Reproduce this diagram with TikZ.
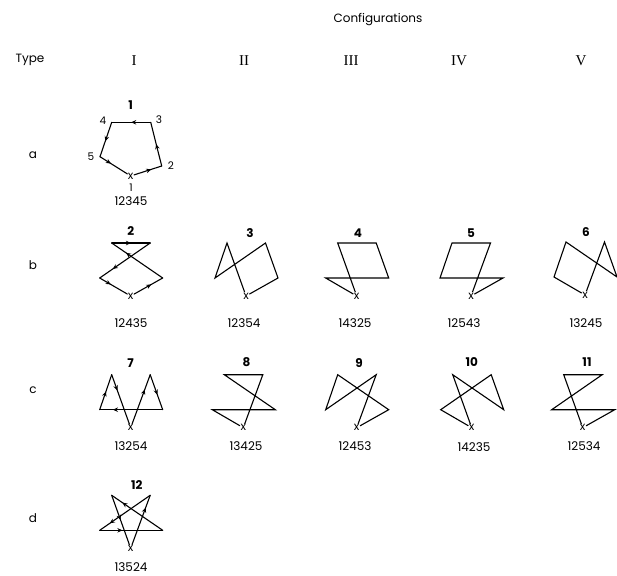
\documentclass[tikz,border=0pt]{standalone}
\usepackage{fontspec}
\newfontfamily\gsans{Poppins}
\newfontfamily\gserif{Liberation Serif}
\usetikzlibrary{arrows.meta,decorations.markings}

% vertices of one pentagon frame: node <name>-1 is the start mark "x",
% <name>-2 .. <name>-5 are the remaining corners
\newcommand\pentaframe[3]{%
  \node[xmark] (#1-1) at (#2,#3) {x};
  \path (#2,#3) ++(32,-18)   coordinate (#1-2)
        (#2,#3) ++(19.5,-53) coordinate (#1-3)
        (#2,#3) ++(-19,-53)  coordinate (#1-4)
        (#2,#3) ++(-31,-18)  coordinate (#1-5);}
% closed tour through the five corners
\newcommand\tour[6]{%
  \draw[edge] (#1-#2) -- (#1-#3) -- (#1-#4) -- (#1-#5) -- (#1-#6) -- (#1-#2);}

\begin{document}
\begin{tikzpicture}[x=1pt,y=-1pt,
  edge/.style={line width=1.1pt,line join=miter},
  aedge/.style={line width=1.1pt,line cap=round,
    postaction={decorate,decoration={markings,
      mark=at position #1 with {\arrow{Stealth[length=5pt,width=4.5pt]}}}}},
  xmark/.style={inner sep=0.4pt,font=\gsans\fontsize{11.5}{11.5}\selectfont},
  lab/.style={inner sep=0pt,font=\gsans\fontsize{12}{12}\selectfont},
  vlab/.style={inner sep=0pt,font=\gsans\fontsize{10.5}{10.5}\selectfont},
  num/.style={inner sep=0pt,font=\gsans\bfseries\fontsize{12}{12}\selectfont},
  roman/.style={inner sep=0pt,font=\gserif\fontsize{15}{15}\selectfont}]
\useasboundingbox (0,0) rectangle (617,575);

% headings
\node[lab] (hdr) at (378,20) {Configurations};
\node[lab] (type) at (30,60) {Type};
\node[roman] (c1) at (134,61) {I};
\node[roman] (c2) at (244,61) {II};
\node[roman] (c3) at (351,61) {III};
\node[roman] (c4) at (459,61) {IV};
\node[roman] (c5) at (581,61) {V};
\node[lab] (ra) at (33,155) {a};
\node[lab] (rb) at (33,265) {b};
\node[lab] (rc) at (33,390) {c};
\node[lab] (rd) at (33,518) {d};

% ---- row a : the pentagon itself
\node[xmark] (f1-1) at (130.7,176) {x};
\path (130.7,176) ++(31,-10)      coordinate (f1-2)
      (130.7,176) ++(20,-53.7)    coordinate (f1-3)
      (130.7,176) ++(-19,-53.7)   coordinate (f1-4)
      (130.7,176) ++(-30.7,-19.3) coordinate (f1-5);
\draw[aedge=0.62] (f1-1) -- (f1-2);
\draw[aedge=0.5]  (f1-2) -- (f1-3);
\draw[aedge=0.5]  (f1-3) -- (f1-4);
\draw[aedge=0.55] (f1-4) -- (f1-5);
\draw[aedge=0.4]  (f1-5) -- (f1-1);
\node[vlab] (v1) at (131,188) {1};
\node[vlab] (v2) at (171,166) {2};
\node[vlab] (v3) at (159,120) {3};
\node[vlab] (v4) at (103,121) {4};
\node[vlab] (v5) at (91,157) {5};
\node[num] (n1) at (130.7,105) {1};
\node[lab] (p1) at (131,201) {12345};

% ---- row b
\pentaframe{f2}{130.7}{296}
\draw[aedge=0.6]  (f2-1) -- (f2-2);
\draw[aedge=0.72] (f2-2) -- (f2-4);
\draw[aedge=0.5]  (f2-4) -- (f2-3);
\draw[aedge=0.74] (f2-3) -- (f2-5);
\draw[aedge=0.4]  (f2-5) -- (f2-1);
\node[num] (n2) at (130.7,231) {2};
\node[lab] (p2) at (131,323) {12435};

\pentaframe{f3}{246}{296}
\tour{f3}{1}{2}{3}{5}{4}
\node[num] (n3) at (250,233) {3};
\node[lab] (p3) at (244,323) {12354};

\pentaframe{f4}{356.7}{296}
\tour{f4}{1}{4}{3}{2}{5}
\node[num] (n4) at (358,233) {4};
\node[lab] (p4) at (355,323) {14325};

\pentaframe{f5}{471}{296}
\tour{f5}{1}{2}{5}{4}{3}
\node[num] (n5) at (471,233) {5};
\node[lab] (p5) at (464,323) {12543};

\pentaframe{f6}{585}{295}
\tour{f6}{1}{3}{2}{4}{5}
\node[num] (n6) at (586,232) {6};
\node[lab] (p6) at (586,323) {13245};

% ---- row c
\pentaframe{f7}{130.7}{427.7}
\draw[aedge=0.7]  (f7-1) -- (f7-3);
\draw[aedge=0.57] (f7-3) -- (f7-2);
\draw[aedge=0.79] (f7-2) -- (f7-5);
\draw[aedge=0.52] (f7-5) -- (f7-4);
\draw[aedge=0.32] (f7-4) -- (f7-1);
\node[num] (n7) at (130.7,363) {7};
\node[lab] (p7) at (131,446) {13254};

\pentaframe{f8}{243.3}{427.7}
\tour{f8}{1}{3}{4}{2}{5}
\node[num] (n8) at (246.5,362) {8};
\node[lab] (p8) at (246,446) {13425};

\pentaframe{f9}{356.7}{427.7}
\tour{f9}{1}{2}{4}{5}{3}
\node[num] (n9) at (359,363) {9};
\node[lab] (p9) at (355,446) {12453};

\pentaframe{f10}{471.7}{427.7}
\tour{f10}{1}{4}{2}{3}{5}
\node[num] (n10) at (471.7,362) {10};
\node[lab] (p10) at (474,447) {14235};

\pentaframe{f11}{582.7}{427.7}
\tour{f11}{1}{2}{5}{3}{4}
\node[num] (n11) at (587,362) {11};
\node[lab] (p11) at (584,446) {12534};

% ---- row d : the pentagram
\pentaframe{f12}{130.7}{548.3}
\draw[aedge=0.75] (f12-1) -- (f12-3);
\draw[aedge=0.8]  (f12-3) -- (f12-5);
\draw[aedge=0.36] (f12-5) -- (f12-2);
\draw[aedge=0.79] (f12-2) -- (f12-4);
\draw[aedge=0.5]  (f12-4) -- (f12-1);
\node[num] (n12) at (136.7,485.5) {12};
\node[lab] (p12) at (131,567) {13524};
\end{tikzpicture}
\end{document}
